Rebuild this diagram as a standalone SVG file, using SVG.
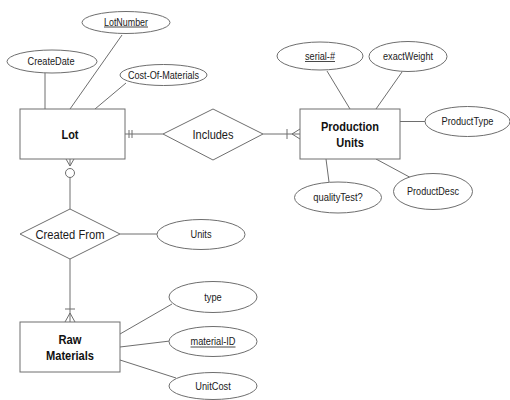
<svg xmlns="http://www.w3.org/2000/svg" width="510" height="400" viewBox="0 0 510 400">
  <style>
    .shape { fill: #ffffff; stroke: #6e6e6e; stroke-width: 1; }
    .link { stroke: #6e6e6e; stroke-width: 1; fill: none; }
    .attr { font-family: "Liberation Sans", Arial, sans-serif; font-size: 10.5px; fill: #1a1a1a; text-anchor: middle; }
    .ent { font-family: "Liberation Sans", Arial, sans-serif; font-size: 12.5px; font-weight: bold; fill: #111111; text-anchor: middle; }
    .rel { font-family: "Liberation Sans", Arial, sans-serif; font-size: 12.5px; fill: #1a1a1a; text-anchor: middle; }
    .ul { stroke: #1a1a1a; stroke-width: 0.8; }
  </style>
  <rect width="510" height="400" fill="#ffffff"/>

  <!-- connectors -->
  <g id="connectors" class="link">
    <!-- Lot attributes -->
    <line x1="45" y1="73" x2="45" y2="109"/>
    <line x1="122" y1="35" x2="70" y2="109"/>
    <line x1="126" y1="83" x2="95" y2="109"/>
    <!-- Production Units attributes -->
    <line x1="327" y1="71" x2="350" y2="109"/>
    <line x1="402" y1="72" x2="376" y2="109"/>
    <line x1="400" y1="121.5" x2="425" y2="121.5"/>
    <line x1="326" y1="159" x2="329" y2="182"/>
    <line x1="376" y1="159" x2="415" y2="180"/>
    <!-- Raw Materials attributes -->
    <line x1="120" y1="334" x2="172" y2="304"/>
    <line x1="120" y1="347" x2="170" y2="341"/>
    <line x1="120" y1="360" x2="176" y2="378"/>
    <!-- Created From - Units -->
    <line x1="120" y1="234" x2="157" y2="234"/>

    <!-- Lot - Includes: exactly one -->
    <line x1="125" y1="134" x2="163" y2="134"/>
    <line x1="129" y1="130" x2="129" y2="138"/>
    <line x1="132" y1="130" x2="132" y2="138"/>
    <!-- Includes - Production Units: one or many -->
    <line x1="263" y1="134" x2="300" y2="134"/>
    <line x1="287" y1="129" x2="287" y2="139"/>
    <line x1="292" y1="134" x2="300" y2="129"/>
    <line x1="292" y1="134" x2="300" y2="139"/>

    <!-- Lot - Created From: zero or many -->
    <line x1="70" y1="166" x2="66" y2="159"/>
    <line x1="70" y1="166" x2="70" y2="159"/>
    <line x1="70" y1="166" x2="74" y2="159"/>
    <circle cx="70" cy="173" r="4.5" fill="#ffffff"/>
    <line x1="70" y1="177.5" x2="70" y2="209"/>
    <!-- Created From - Raw Materials: one or many -->
    <line x1="70" y1="259" x2="70" y2="322"/>
    <line x1="65" y1="309" x2="75" y2="309"/>
    <line x1="70" y1="313" x2="65" y2="322"/>
    <line x1="70" y1="313" x2="75" y2="322"/>
  </g>

  <!-- Lot entity and attributes -->
  <g id="lot">
    <rect class="shape" x="20" y="109" width="105" height="50"/>
    <text class="ent" x="70" y="139" textLength="17" lengthAdjust="spacingAndGlyphs">Lot</text>
  </g>
  <g id="lot-number">
    <ellipse class="shape" cx="126" cy="22.5" rx="44" ry="11"/>
    <text class="attr" x="126" y="25.5" textLength="44" lengthAdjust="spacingAndGlyphs">LotNumber</text>
    <line class="ul" x1="104" y1="27" x2="148" y2="27"/>
  </g>
  <g id="create-date">
    <ellipse class="shape" cx="52" cy="61.5" rx="45" ry="11.5"/>
    <text class="attr" x="51" y="65" textLength="47" lengthAdjust="spacingAndGlyphs">CreateDate</text>
  </g>
  <g id="cost-of-materials">
    <ellipse class="shape" cx="163.5" cy="75" rx="43.5" ry="10.5"/>
    <text class="attr" x="163.5" y="78.5" textLength="71" lengthAdjust="spacingAndGlyphs">Cost-Of-Materials</text>
  </g>

  <!-- Includes relationship -->
  <g id="includes">
    <polygon class="shape" points="163,134 213,109 263,134 213,160"/>
    <text class="rel" x="213" y="138.5" textLength="41" lengthAdjust="spacingAndGlyphs">Includes</text>
  </g>

  <!-- Production Units entity and attributes -->
  <g id="production-units">
    <rect class="shape" x="300" y="109" width="100" height="50"/>
    <text class="ent" x="350" y="131" textLength="58" lengthAdjust="spacingAndGlyphs">Production</text>
    <text class="ent" x="350" y="147" textLength="27.5" lengthAdjust="spacingAndGlyphs">Units</text>
  </g>
  <g id="serial-no">
    <ellipse class="shape" cx="320" cy="56" rx="43" ry="14"/>
    <text class="attr" x="320" y="59.5" textLength="30" lengthAdjust="spacingAndGlyphs">serial-#</text>
    <line class="ul" x1="305" y1="61.5" x2="335" y2="61.5"/>
  </g>
  <g id="exact-weight">
    <ellipse class="shape" cx="408" cy="56.5" rx="39" ry="15"/>
    <text class="attr" x="408" y="60" textLength="50" lengthAdjust="spacingAndGlyphs">exactWeight</text>
  </g>
  <g id="product-type">
    <ellipse class="shape" cx="467.5" cy="121.5" rx="42.5" ry="15"/>
    <text class="attr" x="467.5" y="125" textLength="52" lengthAdjust="spacingAndGlyphs">ProductType</text>
  </g>
  <g id="quality-test">
    <ellipse class="shape" cx="338" cy="197.5" rx="43.5" ry="15.5"/>
    <text class="attr" x="338" y="201" textLength="49.5" lengthAdjust="spacingAndGlyphs">qualityTest?</text>
  </g>
  <g id="product-desc">
    <ellipse class="shape" cx="433" cy="191.5" rx="39.5" ry="18"/>
    <text class="attr" x="433" y="195" textLength="52" lengthAdjust="spacingAndGlyphs">ProductDesc</text>
  </g>

  <!-- Created From relationship -->
  <g id="created-from">
    <polygon class="shape" points="20,234 70,209 120,234 70,259"/>
    <text class="rel" x="70" y="239" textLength="69" lengthAdjust="spacingAndGlyphs">Created From</text>
  </g>
  <g id="units">
    <ellipse class="shape" cx="201" cy="234.5" rx="44" ry="15"/>
    <text class="attr" x="201" y="238" textLength="21" lengthAdjust="spacingAndGlyphs">Units</text>
  </g>

  <!-- Raw Materials entity and attributes -->
  <g id="raw-materials">
    <rect class="shape" x="20" y="322" width="100" height="50"/>
    <text class="ent" x="70" y="344" textLength="23" lengthAdjust="spacingAndGlyphs">Raw</text>
    <text class="ent" x="70" y="359.5" textLength="48" lengthAdjust="spacingAndGlyphs">Materials</text>
  </g>
  <g id="type">
    <ellipse class="shape" cx="213" cy="297" rx="44" ry="15.5"/>
    <text class="attr" x="213" y="300.5" textLength="17.5" lengthAdjust="spacingAndGlyphs">type</text>
  </g>
  <g id="material-id">
    <ellipse class="shape" cx="213" cy="341.5" rx="44" ry="15"/>
    <text class="attr" x="213" y="345" textLength="45" lengthAdjust="spacingAndGlyphs">material-ID</text>
    <line class="ul" x1="190.5" y1="347" x2="235.5" y2="347"/>
  </g>
  <g id="unit-cost">
    <ellipse class="shape" cx="213" cy="386" rx="44" ry="13.5"/>
    <text class="attr" x="213" y="389.5" textLength="35.5" lengthAdjust="spacingAndGlyphs">UnitCost</text>
  </g>
</svg>
